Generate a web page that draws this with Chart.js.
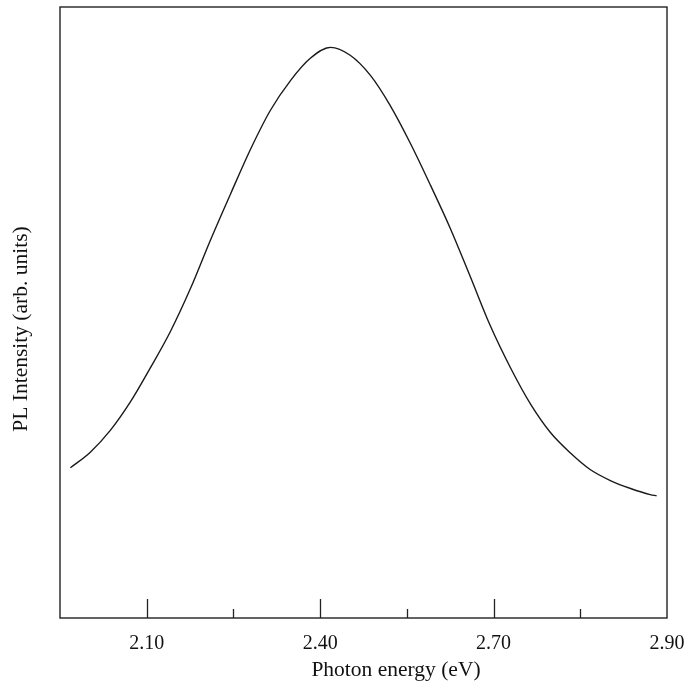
<!DOCTYPE html>
<html>
<head>
<meta charset="utf-8">
<script src="https://cdn.jsdelivr.net/npm/chart.js@4"></script>
<style>
  html, body { margin: 0; padding: 0; background: #fff; }
  #wrap { width: 693px; height: 688px; }
</style>
</head>
<body>
<div id="wrap"><canvas id="c" width="693" height="688"></canvas></div>
<script>
const energy = [1.968, 2.002, 2.037, 2.072, 2.106, 2.141, 2.176, 2.210, 2.245, 2.280, 2.314, 2.349, 2.383, 2.418, 2.452, 2.487, 2.521, 2.556, 2.591, 2.625, 2.660, 2.694, 2.729, 2.764, 2.798, 2.833, 2.867, 2.902, 2.937, 2.971, 2.982];
const intensity = [24.6, 27.1, 30.7, 35.4, 40.9, 46.9, 54.0, 61.8, 69.4, 76.8, 83.1, 88.0, 91.6, 93.4, 92.1, 88.8, 83.9, 77.7, 70.8, 63.8, 55.8, 47.9, 41.0, 35.0, 30.4, 27.0, 24.3, 22.5, 21.2, 20.2, 20.0];
const tickValues = [2.10, 2.25, 2.40, 2.55, 2.70, 2.85, 3.00];
const tickLabels = ["2.10", "", "2.40", "", "2.70", "", "2.90"];
const majorTicks = [2.10, 2.40, 2.70];
const minorTicks = [2.25, 2.55, 2.85];
const xTitle = "Photon energy (eV)";
const yTitle = "PL Intensity (arb. units)";

const SERIF = '"Liberation Serif", "DejaVu Serif", serif';

const framePlugin = {
  id: 'frame',
  afterDraw(chart) {
    const {ctx, chartArea: a, scales} = chart;
    ctx.save();
    ctx.strokeStyle = '#222';
    ctx.lineWidth = 1.4;
    ctx.strokeRect(a.left, a.top, a.right - a.left, a.bottom - a.top);
    ctx.lineWidth = 1.3;
    ctx.beginPath();
    majorTicks.forEach(v => {
      const x = Math.round(scales.x.getPixelForValue(v)) + 0.5;
      ctx.moveTo(x, a.bottom); ctx.lineTo(x, a.bottom - 19);
    });
    minorTicks.forEach(v => {
      const x = Math.round(scales.x.getPixelForValue(v)) + 0.5;
      ctx.moveTo(x, a.bottom); ctx.lineTo(x, a.bottom - 9);
    });
    ctx.stroke();
    ctx.fillStyle = '#111';
    ctx.font = '21.5px ' + SERIF;
    ctx.textAlign = 'center';
    ctx.textBaseline = 'alphabetic';
    ctx.fillText(xTitle, a.left + 336, a.bottom + 58);
    ctx.translate(a.left - 33, a.top + 322);
    ctx.rotate(-Math.PI / 2);
    ctx.fillText(yTitle, 0, 0);
    ctx.restore();
  }
};

new Chart(document.getElementById('c'), {
  type: 'line',
  data: {
    datasets: [{
      data: energy.map((e, i) => ({x: e, y: intensity[i]})),
      borderColor: '#1a1a1a',
      borderWidth: 1.4,
      pointRadius: 0,
      fill: false,
      cubicInterpolationMode: 'monotone'
    }]
  },
  options: {
    responsive: false,
    animation: false,
    layout: { padding: { left: 60, top: 7, right: 26, bottom: 18 } },
    plugins: { legend: { display: false }, tooltip: { enabled: false } },
    scales: {
      x: {
        type: 'linear',
        min: 1.95,
        max: 3.00,
        afterBuildTicks(scale) { scale.ticks = tickValues.map(v => ({value: v})); },
        afterFit(scale) { scale.paddingLeft = 0; scale.paddingRight = 0; },
        ticks: {
          autoSkip: false,
          maxRotation: 0,
          padding: 14,
          color: '#111',
          font: { family: SERIF, size: 20 },
          callback(value) {
            const i = tickValues.findIndex(t => Math.abs(t - value) < 1e-6);
            return i >= 0 ? tickLabels[i] : '';
          }
        },
        grid: { display: false, drawTicks: false, tickLength: 0 },
        border: { display: false }
      },
      y: {
        min: 0,
        max: 100,
        ticks: { display: false },
        grid: { display: false, drawTicks: false, tickLength: 0 },
        border: { display: false }
      }
    }
  },
  plugins: [framePlugin]
});
</script>
</body>
</html>
